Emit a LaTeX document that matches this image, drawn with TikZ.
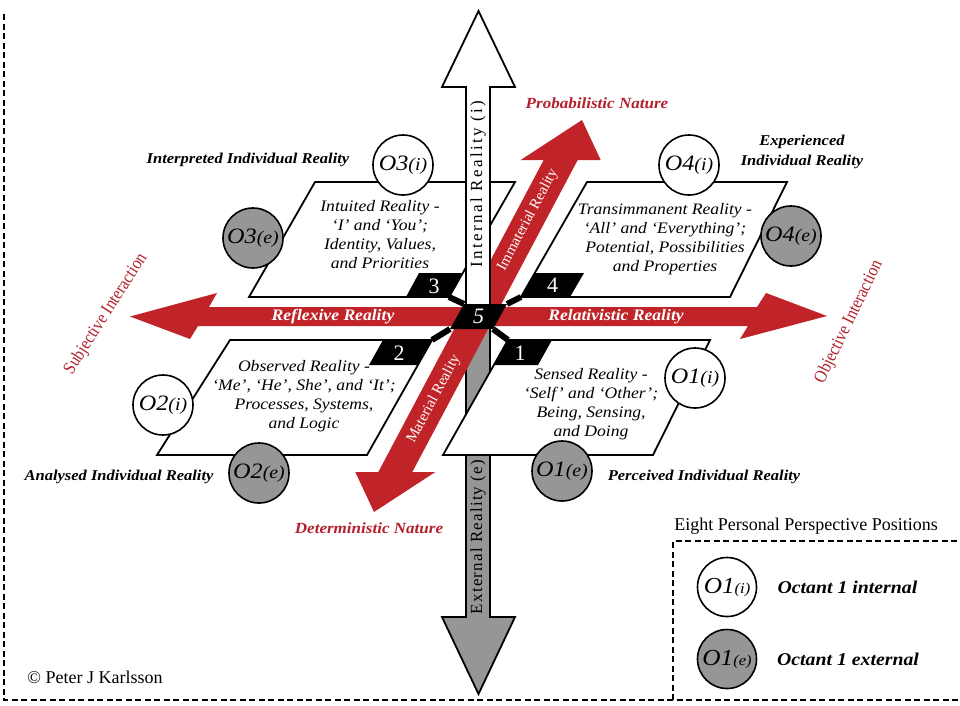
\documentclass[tikz,border=0pt]{standalone}
\usepackage{fontspec}
\setmainfont{Liberation Serif}
\newfontfamily\wserif[FakeStretch=1.1,Ligatures=TeX]{Liberation Serif}
\newfontfamily\nserif[FakeStretch=0.88,Ligatures=TeX]{Liberation Serif}
\newfontfamily\spserifA[LetterSpace=14]{Liberation Serif}
\newfontfamily\spserifB[LetterSpace=7]{Liberation Serif}
\usetikzlibrary{calc}
\definecolor{axred}{RGB}{192,36,40}
\definecolor{txtred}{RGB}{180,32,45}
\definecolor{midgray}{RGB}{150,150,150}
\newcommand{\olab}[2]{\itshape O#1{\fontsize{18}{18}\selectfont(#2)}}
\newcommand{\olegend}[2]{\itshape O#1{\fontsize{15}{15}\selectfont(#2)}}
\tikzset{
 plate/.style={draw=black,line width=1.8pt,fill=white,line join=miter},
 border/.style={draw=black,line width=1.8pt,dash pattern=on 6pt off 3.5pt},
 vaxis/.style={draw=black,line width=1.8pt,line join=miter},
 linker/.style={draw=black,line width=6pt},
 numtxt/.style={text=white,font=\fontsize{22}{22}\selectfont,inner sep=0pt},
 circi/.style={circle,draw=black,line width=1.6pt,fill=white,minimum size=60pt,inner sep=0pt,font=\wserif\fontsize{22}{22}\selectfont},
 circe/.style={circi,fill=midgray},
 octlbl/.style={font=\wserif\fontsize{15}{20}\selectfont\bfseries\itshape,align=center,inner sep=0pt},
 platetxt/.style={font=\wserif\fontsize{16}{19}\selectfont\itshape,align=center,inner sep=0pt},
 natlbl/.style={text=txtred,font=\wserif\fontsize{15.5}{16}\selectfont\bfseries\itshape,inner sep=0pt},
 shaftlbl/.style={text=white,font=\wserif\fontsize{16}{16}\selectfont\bfseries\itshape,inner sep=0pt},
 interlbl/.style={text=txtred,font=\nserif\fontsize{18}{18}\selectfont,inner sep=0pt},
 diaglbl/.style={text=white,font=\fontsize{15}{15}\selectfont,inner sep=0pt,rotate=62},
 legtxt/.style={font=\wserif\fontsize{18}{18}\selectfont\bfseries\itshape,inner sep=0pt},
 plaintxt/.style={font=\fontsize{18}{18}\selectfont,inner sep=0pt},
}
\begin{document}
\begin{tikzpicture}[x=1pt,y=-1pt]
\useasboundingbox (0,0) rectangle (960,705);
\fill[white] (0,0) rectangle (960,705);
% borders
\draw[border] (4,14) -- (4,700) -- (960,700);
\draw[border] (673,700) -- (673,541) -- (960,541);
% coordinates
\coordinate (p3a) at (315,182); \coordinate (p3b) at (515,182); \coordinate (p3c) at (449,297); \coordinate (p3d) at (249,297);
\coordinate (p4a) at (587,182); \coordinate (p4b) at (787,182); \coordinate (p4c) at (730,297); \coordinate (p4d) at (521,297);
\coordinate (p2a) at (230,340); \coordinate (p2b) at (432,340); \coordinate (p2c) at (367,455); \coordinate (p2d) at (157,455);
\coordinate (p1a) at (508,340); \coordinate (p1b) at (710,340); \coordinate (p1c) at (653,455); \coordinate (p1d) at (443,455);
\coordinate (b5a) at (464,304); \coordinate (b5b) at (507,304); \coordinate (b5c) at (493,329); \coordinate (b5d) at (450,329);
% upper plates
\path[plate] (p3a) -- (p3b) -- (p3c) -- (p3d) -- cycle;
\path[plate] (p4a) -- (p4b) -- (p4c) -- (p4d) -- cycle;
% upper red diagonal (behind vertical axis)
\fill[axred] (461,316) -- (543.7,160) -- (520.7,160) -- (582,120) -- (600.7,160) -- (577.7,160) -- (495,316) -- cycle;
% vertical axis
\path[vaxis,fill=white] (466,316) -- (466,87) -- (442,87) -- (478.5,11) -- (515,87) -- (490,87) -- (490,316) -- cycle;
\path[vaxis,fill=midgray] (466,316) -- (466,617) -- (442,617) -- (478.5,694) -- (515,617) -- (490,617) -- (490,316) -- cycle;
% lower plates
\path[plate] (p1a) -- (p1b) -- (p1c) -- (p1d) -- cycle;
\path[plate] (p2a) -- (p2b) -- (p2c) -- (p2d) -- cycle;
% lower red diagonal
\fill[axred] (495,316) -- (412.3,472) -- (435.3,472) -- (374,512) -- (355.3,472) -- (378.3,472) -- (461,316) -- cycle;
% horizontal red
\fill[axred] (130,316.5) -- (217,293) -- (209,307) -- (757,307) -- (766,293) -- (827,316) -- (740,339) -- (748,326) -- (198,326) -- (190,339) -- cycle;
% connectors and number boxes
\draw[linker] (p3c) -- (b5a);
\draw[linker] (p4d) -- (b5b);
\draw[linker] (p2b) -- (b5d);
\draw[linker] (p1a) -- (b5c);
\fill (b5a) -- (b5b) -- (b5c) -- (b5d) -- cycle;
\fill (419,273) -- (462,273) -- (p3c) -- (406,297) -- cycle;
\fill (535,273) -- (584,273) -- (570,297) -- (p4d) -- cycle;
\fill (383,340) -- (p2b) -- (418,365) -- (369,365) -- cycle;
\fill (p1a) -- (552,340) -- (538,365) -- (494,365) -- cycle;
\node[numtxt] (n3) at (434,286) {3};
\node[numtxt] (n4) at (552.5,285.5) {4};
\node[numtxt] (n2) at (399,353) {2};
\node[numtxt] (n1) at (520,353) {1};
\node[numtxt,font=\fontsize{22}{22}\selectfont\itshape] (n5) at (478.5,316.5) {5};
% plate texts
\node[platetxt] (t3) at (380,235) {Intuited Reality -\\‘I’ and ‘You’;\\Identity, Values,\\and Priorities};
\node[platetxt] (t4) at (665,239) {Transimmanent Reality -\\‘All’ and ‘Everything’;\\Potential, Possibilities\\and Properties};
\node[platetxt] (t2) at (304,396) {Observed Reality -\\‘Me’, ‘He’, She’, and ‘It’;\\Processes, Systems,\\and Logic};
\node[platetxt] (t1) at (591,404) {Sensed Reality -\\‘Self’ and ‘Other’;\\Being, Sensing,\\and Doing};
% circles
\node[circi] (o3i) at (403,165) {\olab{3}{i}};
\node[circe] (o3e) at (253,238) {\olab{3}{e}};
\node[circi] (o4i) at (689,165) {\olab{4}{i}};
\node[circe] (o4e) at (791,236) {\olab{4}{e}};
\node[circi] (o2i) at (163,405) {\olab{2}{i}};
\node[circe] (o2e) at (259,473) {\olab{2}{e}};
\node[circi] (o1i) at (695,378) {\olab{1}{i}};
\node[circe] (o1e) at (562,471) {\olab{1}{e}};
% octant labels
\node[octlbl] (lint) at (248,160) {Interpreted Individual Reality};
\node[octlbl] (lexp) at (802,152) {Experienced\\Individual Reality};
\node[octlbl] (lana) at (119,477) {Analysed Individual Reality};
\node[octlbl] (lper) at (704,477) {Perceived Individual Reality};
% axis labels
\node[natlbl] (prob) at (597,103) {Probabilistic Nature};
\node[natlbl] (det) at (369,528) {Deterministic Nature};
\node[shaftlbl] (refl) at (333,316.5) {Reflexive Reality};
\node[shaftlbl] (rel) at (616,316.5) {Relativistic Reality};
\node[interlbl,rotate=57.5] (subj) at (106,314) {Subjective Interaction};
\node[interlbl,rotate=64] (obj) at (849,322) {Objective Interaction};
\node[rotate=90,inner sep=0pt,font=\spserifA\fontsize{17}{17}\selectfont] (intr) at (478,184) {Internal Reality (i)};
\node[rotate=90,inner sep=0pt,font=\spserifB\fontsize{17}{17}\selectfont] (extr) at (478,537) {External Reality (e)};
\node[diaglbl] (imm) at (528,220) {Immaterial Reality};
\node[diaglbl] (mat) at (434,399) {Material Reality};
% legend
\node[plaintxt] (ltitle) at (806,526) {Eight Personal Perspective Positions};
\node[circi,minimum size=59pt,font=\wserif\fontsize{23}{23}\selectfont] (li) at (727,587) {\olegend{1}{i}};
\node[circe,minimum size=59pt,font=\wserif\fontsize{23}{23}\selectfont] (le) at (727,659) {\olegend{1}{e}};
\node[legtxt] (lit) at (847.5,587) {Octant 1 internal};
\node[legtxt] (let) at (848,659) {Octant 1 external};
\node[plaintxt] (copy) at (95,677) {\textcopyright{} Peter J Karlsson};
\end{tikzpicture}
\end{document}
